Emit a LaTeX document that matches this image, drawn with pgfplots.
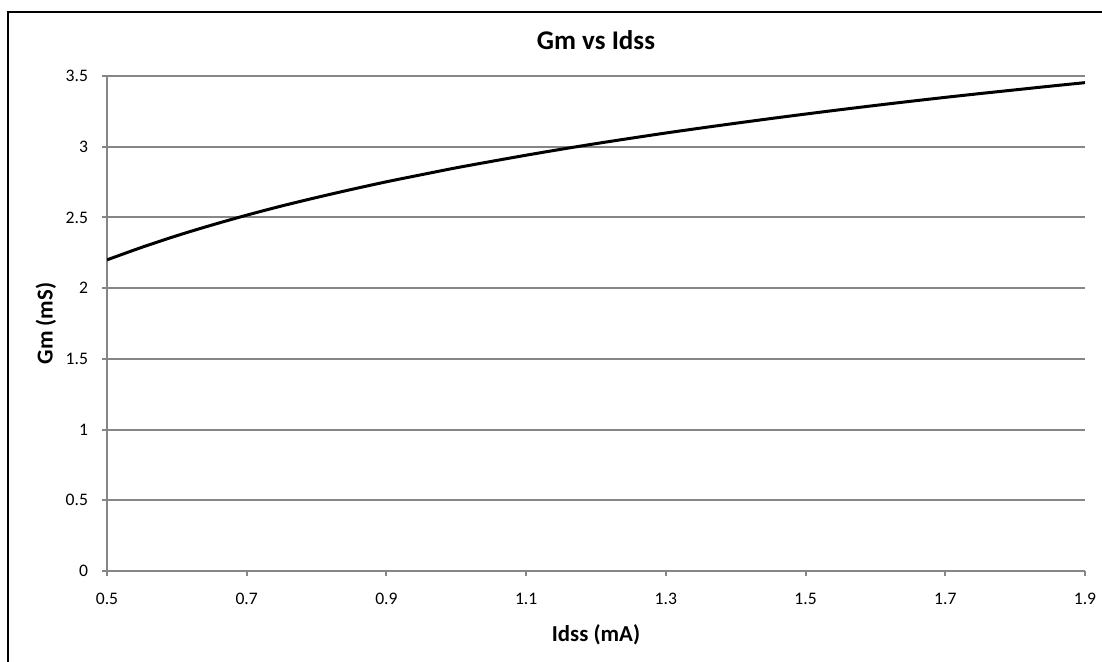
\documentclass[border=0pt]{standalone}
\usepackage{pgfplots}
\pgfplotsset{compat=1.18}
\usepackage{fontspec}
\setmainfont{Carlito}
\definecolor{gridgray}{RGB}{134,134,134}
\begin{document}
\begin{tikzpicture}
\useasboundingbox (0,0) rectangle (551pt,330.5pt);
\draw[black,line width=1.1pt] (4pt,-20pt) -- (4pt,324.5pt) -- (570pt,324.5pt);
\begin{axis}[
  at={(53.5pt,45pt)}, anchor=south west,
  scale only axis, width=489pt, height=247.5pt,
  xmin=0.5, xmax=1.9, ymin=0, ymax=3.5,
  xtick={0.5,0.7,...,1.9},
  xticklabels={0.5,0.7,0.9,1.1,1.3,1.5,1.7,1.9},
  ytick={0,0.5,...,3.5},
  yticklabels={0,0.5,1,1.5,2,2.5,3,3.5},
  ymajorgrids=true,
  grid style={gridgray,line width=1pt},
  axis line style={gridgray,line width=1pt},
  axis x line*=bottom, axis y line*=left,
  every outer x axis line/.append style={-},
  every outer y axis line/.append style={-},
  tick style={gridgray,line width=1pt},
  tick align=outside, major tick length=2.5pt,
  xtick pos=bottom, ytick pos=left,
  tick label style={font=\fontsize{8.8}{10}\selectfont, text=black},
  /pgf/number format/assume math mode=true,
  xticklabel style={yshift=-5pt},
  yticklabel style={xshift=-3.5pt},
  title={Gm vs Idss},
  title style={font=\fontsize{13.5}{15}\bfseries, at={(axis description cs:0.5,1)}, anchor=center, yshift=12pt},
  xlabel={Idss (mA)},
  xlabel style={font=\fontsize{11.4}{13}\bfseries, at={(axis description cs:0.5,0)}, anchor=center, yshift=-32pt},
  ylabel={Gm (mS)},
  ylabel style={font=\fontsize{11.4}{13}\bfseries, at={(axis description cs:-0.0624,0.5)}, anchor=center},
]
\addplot[black, line width=1.5pt, smooth] coordinates {
(0.50,2.200) (0.55,2.289) (0.60,2.371) (0.65,2.446) (0.70,2.516)
(0.75,2.581) (0.80,2.641) (0.85,2.698) (0.90,2.752) (0.95,2.802)
(1.00,2.851) (1.05,2.896) (1.10,2.940) (1.15,2.982) (1.20,3.022)
(1.25,3.060) (1.30,3.097) (1.35,3.132) (1.40,3.166) (1.45,3.199)
(1.50,3.231) (1.55,3.262) (1.60,3.292) (1.65,3.321) (1.70,3.349)
(1.75,3.376) (1.80,3.402) (1.85,3.428) (1.90,3.453)
};
\end{axis}
\end{tikzpicture}
\end{document}
